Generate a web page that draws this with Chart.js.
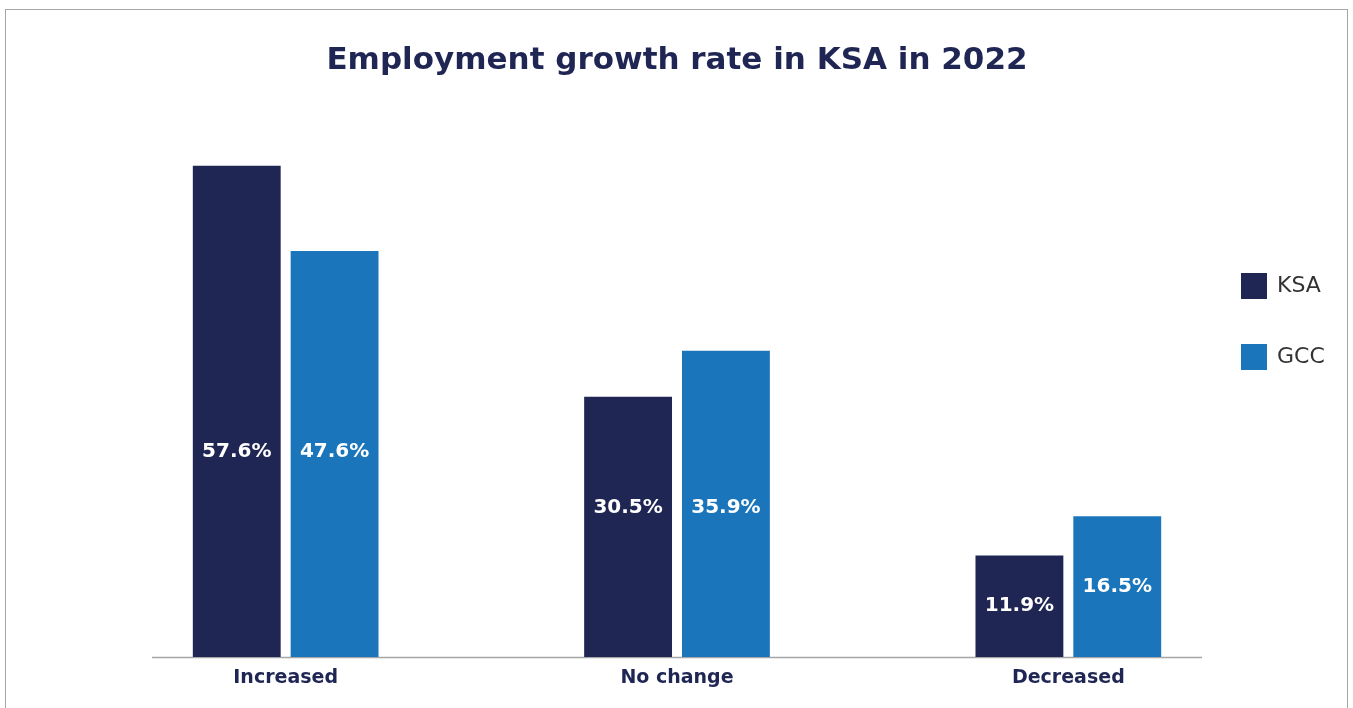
<!DOCTYPE html>
<html>
<head>
<meta charset="utf-8">
<title>Employment growth rate in KSA in 2022</title>
<script src="https://cdn.jsdelivr.net/npm/chart.js@4.4.1/dist/chart.umd.min.js"></script>
<style>
  html, body { margin: 0; padding: 0; background: #fff; }
  #wrap { position: relative; width: 1353px; height: 708px; }
</style>
</head>
<body>
<div id="wrap"><canvas id="growthChart" width="1353" height="708"></canvas></div>
<script>
const categories = ['Increased', 'No change', 'Decreased'];
const seriesNames = ['KSA', 'GCC'];
const ksaValues = [57.6, 30.5, 11.9];
const gccValues = [47.6, 35.9, 16.5];

const NAVY = '#1f2654';
const BLUE = '#1b75bb';
const FONT = "'DejaVu Sans', sans-serif";

// frame round the whole figure
const framePlugin = {
    id: 'frame',
    beforeDraw(chart) {
        const ctx = chart.ctx;
        ctx.save();
        ctx.strokeStyle = '#a6a6a6';
        ctx.lineWidth = 1;
        ctx.strokeRect(5.5, 9.5, 1342, 720);
        ctx.restore();
    }
};

// baseline under the bars, a bit shorter than the plot area
const baselinePlugin = {
    id: 'baseline',
    beforeDatasetsDraw(chart, args, opts) {
        const { ctx, chartArea } = chart;
        const y = Math.round(chart.scales.y.getPixelForValue(0)) + 0.5;
        ctx.save();
        ctx.strokeStyle = '#a6a6a6';
        ctx.lineWidth = 1.5;
        ctx.beginPath();
        ctx.moveTo(chartArea.left + opts.inset, y);
        ctx.lineTo(chartArea.right - opts.inset, y);
        ctx.stroke();
        ctx.restore();
    }
};

// white value labels inside the bars
const valueLabels = {
    id: 'valueLabels',
    afterDatasetsDraw(chart, args, opts) {
        const ctx = chart.ctx;
        ctx.save();
        ctx.fillStyle = '#fff';
        ctx.font = 'bold 20px ' + FONT;
        ctx.textAlign = 'center';
        ctx.textBaseline = 'middle';
        chart.data.datasets.forEach((ds, di) => {
            chart.getDatasetMeta(di).data.forEach((bar, i) => {
                const y = chart.scales.y.getPixelForValue(opts.anchors[di][i]);
                ctx.fillText(ds.data[i].toFixed(1) + '%', bar.x, y);
            });
        });
        ctx.restore();
    }
};

// legend on the right side
const sideLegend = {
    id: 'sideLegend',
    afterDraw(chart, args, opts) {
        const ctx = chart.ctx;
        ctx.save();
        ctx.font = '22px ' + FONT;
        ctx.textBaseline = 'middle';
        chart.data.datasets.forEach((ds, i) => {
            const top = opts.top + i * opts.step;
            ctx.fillStyle = ds.backgroundColor;
            ctx.fillRect(opts.left, top, 26, 26);
            ctx.fillStyle = '#333';
            ctx.fillText(ds.label, opts.left + 36, top + 13);
        });
        ctx.restore();
    }
};

new Chart(document.getElementById('growthChart'), {
    type: 'bar',
    data: {
        labels: categories,
        datasets: [
            { label: seriesNames[0], data: ksaValues, backgroundColor: NAVY },
            { label: seriesNames[1], data: gccValues, backgroundColor: BLUE }
        ]
    },
    options: {
        responsive: false,
        animation: false,
        layout: { padding: { left: 90, right: 89, top: 0, bottom: 0 } },
        datasets: { bar: { categoryPercentage: 0.5, barPercentage: 0.898 } },
        scales: {
            x: {
                grid: { display: false, drawTicks: false },
                border: { display: false },
                ticks: { color: NAVY, font: { family: FONT, size: 19, weight: 'bold' }, padding: 10 },
                afterFit(scale) { scale.height = 51; }
            },
            y: { display: false, min: 0, max: 60 }
        },
        plugins: {
            legend: { display: false },
            tooltip: { enabled: false },
            title: {
                display: true,
                text: 'Employment growth rate in KSA in 2022',
                color: NAVY,
                font: { family: FONT, size: 31, weight: 'bold' },
                padding: { top: 42, bottom: 66 }
            },
            baseline: { inset: 62 },
            valueLabels: { anchors: [[24, 17.5, 5.95], [24, 17.5, 8.25]] },
            sideLegend: { left: 1241, top: 273, step: 71 }
        }
    },
    plugins: [framePlugin, baselinePlugin, valueLabels, sideLegend]
});
</script>
</body>
</html>
